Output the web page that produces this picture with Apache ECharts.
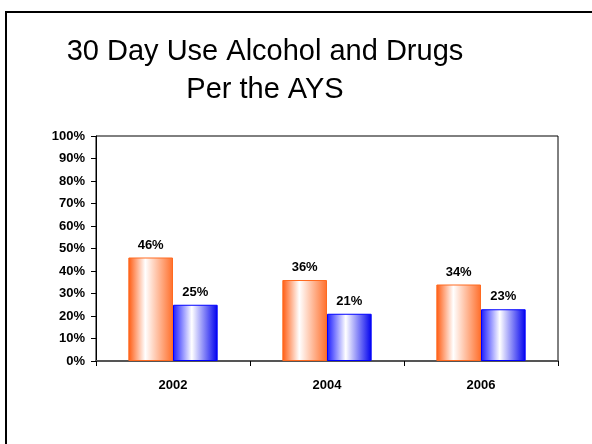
<!DOCTYPE html>
<html><head><meta charset="utf-8">
<script src="https://cdn.jsdelivr.net/npm/echarts@6/dist/echarts.min.js"></script>
<style>html,body{margin:0;padding:0;background:#fff}#c{width:592px;height:444px}</style>
</head><body><div id="c"></div>
<script>
var categories = ['2002', '2004', '2006'];
var alcohol = [46, 36, 34];
var drugs = [25, 21, 23];
var yTicks = [0, 10, 20, 30, 40, 50, 60, 70, 80, 90, 100];
var titleLines = ['30 Day Use Alcohol and Drugs', 'Per the AYS'];

var chart = echarts.init(document.getElementById('c'), null, {renderer: 'canvas'});
function grad(edgeL, edgeR, mid) {
  return new echarts.graphic.LinearGradient(0, 0, 1, 0, [
    {offset: 0, color: edgeL}, {offset: mid, color: '#ffffff'}, {offset: 1, color: edgeR}
  ]);
}
var labelStyle = {show: true, position: 'top', distance: 6, formatter: '{c}%', fontFamily: 'Liberation Sans, Arial', fontWeight: 'bold', fontSize: 13, color: '#000'};
var titleFont = {fontFamily: 'Liberation Sans, Arial', fontWeight: 'normal', fontSize: 29, fill: '#000', textAlign: 'center', textVerticalAlign: 'middle'};
chart.setOption({
  animation: false,
  backgroundColor: '#fff',
  graphic: [
    {type: 'rect', shape: {x: 6, y: 12, width: 620, height: 460}, style: {fill: 'none', stroke: '#000', lineWidth: 2}, z: 0},
    {type: 'text', x: 265, y: 52, style: Object.assign({text: titleLines[0]}, titleFont)},
    {type: 'text', x: 265, y: 90, style: Object.assign({text: titleLines[1]}, titleFont)}
  ],
  grid: {left: 96, right: 34, top: 136, bottom: 83, show: true, borderColor: '#000', borderWidth: 1, backgroundColor: 'transparent'},
  xAxis: {
    type: 'category', data: categories,
    axisLine: {lineStyle: {color: '#555', width: 2}},
    axisTick: {show: true, length: 5, lineStyle: {color: '#000'}},
    axisLabel: {margin: 18, fontFamily: 'Liberation Sans, Arial', fontWeight: 'bold', fontSize: 13, color: '#000'}
  },
  yAxis: {
    type: 'value', min: 0, max: 100, interval: 10,
    axisLine: {show: true, lineStyle: {color: '#000'}},
    axisTick: {show: true, length: 5, lineStyle: {color: '#000'}},
    splitLine: {show: false},
    axisLabel: {margin: 11, formatter: '{value}%', fontFamily: 'Liberation Sans, Arial', fontWeight: 'bold', fontSize: 13, color: '#000'}
  },
  series: [
    {type: 'bar', data: alcohol, barGap: '0%', barCategoryGap: '42%',
     itemStyle: {color: grad('#FF5A10', '#FF6E2A', 0.38), borderColor: '#FF6A20', borderWidth: 1},
     label: labelStyle},
    {type: 'bar', data: drugs,
     itemStyle: {color: grad('#1a1aff', '#0000EE', 0.42), borderColor: '#0000FF', borderWidth: 1},
     label: labelStyle}
  ]
});
</script></body></html>
